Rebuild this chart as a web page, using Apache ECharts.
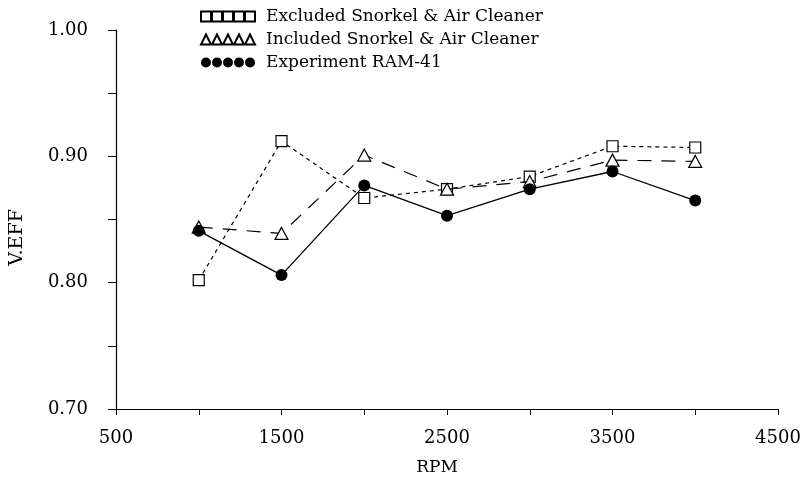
<!DOCTYPE html>
<html>
<head>
<meta charset="utf-8">
<script src="https://cdn.jsdelivr.net/npm/echarts@6/dist/echarts.min.js"></script>
<style>
  html, body { margin: 0; padding: 0; background: #fff; }
  #chart { width: 808px; height: 482px; }
</style>
</head>
<body>
<div id="chart"></div>
<script>
// Engine speed (RPM) and volumetric efficiency readings
const rpm = [1000, 1500, 2000, 2500, 3000, 3500, 4000];
const excludedSnorkel = [0.802, 0.912, 0.867, 0.874, 0.884, 0.908, 0.907];
const includedSnorkel = [0.844, 0.839, 0.901, 0.874, 0.880, 0.897, 0.896];
const experimentRAM41 = [0.841, 0.806, 0.877, 0.853, 0.874, 0.888, 0.865];

const seriesNames = [
  'Excluded Snorkel & Air Cleaner',
  'Included Snorkel & Air Cleaner',
  'Experiment RAM-41'
];

const FONT = 'DejaVu Serif';

function pairs(values) {
  return rpm.map((x, i) => [x, values[i]]);
}

// Legend keys: a row of five repeated markers
function repeatPath(shape) {
  let d = '';
  for (let i = 0; i < 5; i++) {
    const o = i * 11;
    if (shape === 'square') {
      d += `M${o} 0L${o + 10} 0L${o + 10} 10L${o} 10Z`;
    } else if (shape === 'triangle') {
      d += `M${o + 5} 0L${o + 10} 10L${o} 10Z`;
    } else {
      d += `M${o} 5A5 5 0 1 0 ${o + 10} 5A5 5 0 1 0 ${o} 5Z`;
    }
  }
  return 'path://' + d;
}

const legendText = { fontFamily: FONT, fontSize: 17, color: '#000', padding: [0, 0, 0, 6] };

const chart = echarts.init(document.getElementById('chart'));

chart.setOption({
  animation: false,
  backgroundColor: '#ffffff',
  textStyle: { fontFamily: FONT },
  grid: { left: 116, right: 30, top: 30, bottom: 73 },
  legend: {
    orient: 'vertical',
    left: 195,
    top: 3,
    itemWidth: 54,
    itemHeight: 10,
    itemGap: 6,
    textStyle: legendText,
    data: [
      { name: seriesNames[0], icon: repeatPath('square'), textStyle: legendText },
      { name: seriesNames[1], icon: repeatPath('triangle'), textStyle: legendText },
      { name: seriesNames[2], icon: repeatPath('circle'), textStyle: legendText }
    ]
  },
  xAxis: {
    type: 'value',
    min: 500,
    max: 4500,
    interval: 500,
    name: 'RPM',
    nameLocation: 'middle',
    nameGap: 50,
    nameTextStyle: { fontFamily: FONT, fontSize: 17, color: '#000', padding: [0, 20, 0, 0] },
    axisLine: { lineStyle: { color: '#000', width: 1.2 } },
    axisTick: { show: true, length: 6, lineStyle: { color: '#000' } },
    axisLabel: {
      fontFamily: FONT, fontSize: 18, color: '#000', margin: 20,
      formatter: v => (v % 1000 === 500 ? String(v) : '')
    },
    splitLine: { show: false }
  },
  yAxis: {
    type: 'value',
    min: 0.70,
    max: 1.00,
    interval: 0.05,
    name: 'V.EFF',
    nameLocation: 'middle',
    nameGap: 89,
    nameTextStyle: { fontFamily: FONT, fontSize: 19, color: '#000', padding: [0, 36, 0, 0] },
    axisLine: { show: true, lineStyle: { color: '#000', width: 1.2 } },
    axisTick: { show: true, length: 8, lineStyle: { color: '#000' } },
    axisLabel: {
      fontFamily: FONT, fontSize: 18, color: '#000', margin: 28,
      formatter: v => (Math.abs(v * 10 - Math.round(v * 10)) < 1e-6 ? v.toFixed(2) : '')
    },
    splitLine: { show: false }
  },
  series: [
    {
      name: seriesNames[0],
      type: 'line',
      data: pairs(excludedSnorkel),
      symbol: 'rect',
      symbolSize: 11,
      itemStyle: { color: '#fff', borderColor: '#000', borderWidth: 1.2 },
      lineStyle: { color: '#000', width: 1.2, type: [4, 4] },
      z: 2
    },
    {
      name: seriesNames[1],
      type: 'line',
      data: pairs(includedSnorkel),
      symbol: 'triangle',
      symbolSize: [13, 12],
      itemStyle: { color: '#fff', borderColor: '#000', borderWidth: 1.2 },
      lineStyle: { color: '#000', width: 1.2, type: [14, 10] },
      z: 3
    },
    {
      name: seriesNames[2],
      type: 'line',
      data: pairs(experimentRAM41),
      symbol: 'circle',
      symbolSize: 12,
      itemStyle: { color: '#000', borderColor: '#000', borderWidth: 0 },
      lineStyle: { color: '#000', width: 1.3, type: 'solid' },
      z: 4
    }
  ]
});
</script>
</body>
</html>
